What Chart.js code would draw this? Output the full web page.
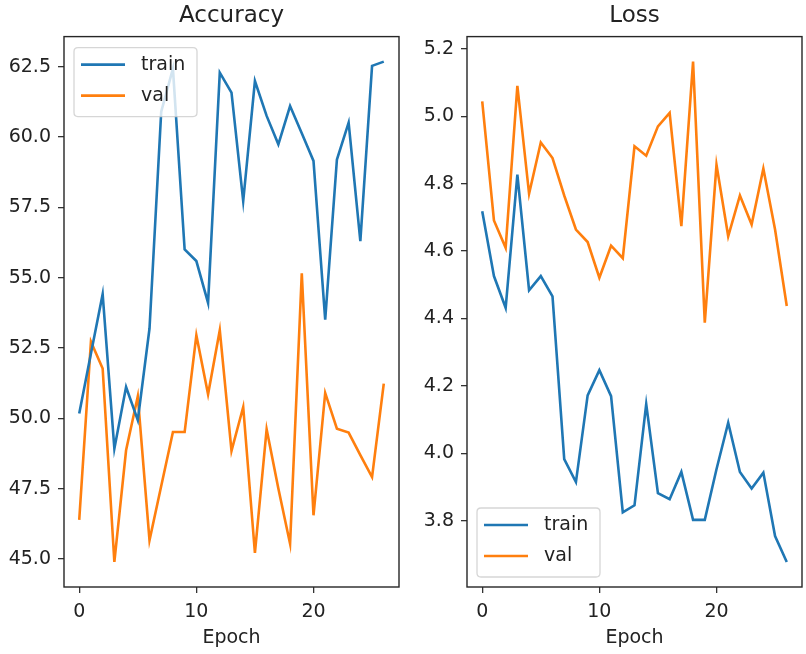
<!DOCTYPE html>
<html>
<head>
<meta charset="utf-8">
<script src="https://cdn.jsdelivr.net/npm/chart.js@4/dist/chart.umd.min.js"></script>
<style>
  html, body { margin: 0; padding: 0; background: #fff; }
  #wrap { position: relative; width: 806px; height: 654px; overflow: hidden; }
  canvas { position: absolute; top: 0; }
</style>
</head>
<body>
<div id="wrap">
  <canvas id="acc" width="403" height="654" style="left:0"></canvas>
  <canvas id="loss" width="403" height="654" style="left:403px"></canvas>
</div>
<script>
// ---- data ----
const epochs = [0,1,2,3,4,5,6,7,8,9,10,11,12,13,14,15,16,17,18,19,20,21,22,23,24,25,26];
const accTrain = [50.17, 52.3, 54.41, 48.92, 51.11, 49.93, 53.19, 60.9, 62.43, 56.0, 55.59, 54.1, 62.29, 61.58, 57.72, 61.99, 60.75, 59.74, 61.1, 60.13, 59.15, 53.51, 59.2, 60.51, 56.3, 62.53, 62.68];
const accVal = [46.39, 52.72, 51.77, 44.89, 48.86, 50.78, 45.66, 47.59, 49.51, 49.51, 52.95, 50.85, 53.13, 48.84, 50.4, 45.21, 49.61, 47.5, 45.54, 55.15, 46.55, 50.9, 49.63, 49.49, 48.69, 47.91, 51.23];
const lossTrain = [4.718, 4.526, 4.432, 4.827, 4.484, 4.526, 4.466, 3.983, 3.915, 4.172, 4.247, 4.17, 3.825, 3.846, 4.146, 3.882, 3.864, 3.945, 3.803, 3.803, 3.953, 4.091, 3.945, 3.896, 3.943, 3.755, 3.678];
const lossVal = [5.044, 4.691, 4.61, 5.09, 4.77, 4.922, 4.876, 4.765, 4.664, 4.627, 4.521, 4.616, 4.579, 4.911, 4.883, 4.97, 5.01, 4.674, 5.162, 4.388, 4.856, 4.644, 4.765, 4.679, 4.845, 4.664, 4.437];
const xTicks = [0, 10, 20];
const accTicks = [45.0, 47.5, 50.0, 52.5, 55.0, 57.5, 60.0, 62.5];
const lossTicks = [3.8, 4.0, 4.2, 4.4, 4.6, 4.8, 5.0, 5.2];
const seriesLabels = ['train', 'val'];
const titles = ['Accuracy', 'Loss'];
const xTitle = 'Epoch';

// ---- styling ----
const C0 = '#1f77b4', C1 = '#ff7f0e';
const FONT = '"DejaVu Sans", sans-serif';
const TXT = '#222';

function margins(arrs) {
  const all = [].concat(...arrs);
  const mn = Math.min(...all), mx = Math.max(...all);
  const m = (mx - mn) * 0.05;
  return [mn - m, mx + m];
}
const xr = margins([epochs]);

const framePlugin = {
  id: 'frame',
  afterDatasetsDraw(chart, args, opts) {
    const {ctx, chartArea: a} = chart;
    ctx.save();
    ctx.strokeStyle = '#262626';
    ctx.lineWidth = 1.4;
    ctx.strokeRect(a.left, a.top, a.right - a.left, a.bottom - a.top);
    // legend
    const w = 123, h = 69;
    const lx = a.left + 10;
    const ly = opts.where === 'top' ? a.top + 11 : a.bottom - 10 - h;
    const r = 4;
    ctx.beginPath();
    ctx.moveTo(lx + r, ly);
    ctx.lineTo(lx + w - r, ly);
    ctx.quadraticCurveTo(lx + w, ly, lx + w, ly + r);
    ctx.lineTo(lx + w, ly + h - r);
    ctx.quadraticCurveTo(lx + w, ly + h, lx + w - r, ly + h);
    ctx.lineTo(lx + r, ly + h);
    ctx.quadraticCurveTo(lx, ly + h, lx, ly + h - r);
    ctx.lineTo(lx, ly + r);
    ctx.quadraticCurveTo(lx, ly, lx + r, ly);
    ctx.closePath();
    ctx.fillStyle = 'rgba(255,255,255,0.8)';
    ctx.fill();
    ctx.strokeStyle = 'rgba(204,204,204,0.8)';
    ctx.lineWidth = 1.3;
    ctx.stroke();
    chart.data.datasets.forEach((ds, i) => {
      const yy = ly + 17 + i * 31;
      ctx.strokeStyle = ds.borderColor;
      ctx.lineWidth = 2.6;
      ctx.beginPath();
      ctx.moveTo(lx + 7, yy);
      ctx.lineTo(lx + 51, yy);
      ctx.stroke();
      ctx.fillStyle = TXT;
      ctx.font = '19px ' + FONT;
      ctx.textBaseline = 'middle';
      ctx.textAlign = 'left';
      ctx.fillText(ds.label, lx + 67, yy);
    });
    ctx.restore();
  }
};

function makeChart(id, title, train, val, yTicks, legendWhere) {
  const yr = margins([train, val]);
  const toPts = arr => arr.map((v, i) => ({x: epochs[i], y: v}));
  return new Chart(document.getElementById(id), {
    type: 'line',
    data: {
      datasets: [
        {label: seriesLabels[0], data: toPts(train), borderColor: C0, backgroundColor: C0, borderWidth: 2.6, pointRadius: 0, tension: 0, fill: false},
        {label: seriesLabels[1], data: toPts(val), borderColor: C1, backgroundColor: C1, borderWidth: 2.6, pointRadius: 0, tension: 0, fill: false}
      ]
    },
    options: {
      responsive: false,
      animation: false,
      devicePixelRatio: 1,
      layout: {padding: {left: 0, right: 4, top: 0, bottom: 0}},
      plugins: {
        legend: {display: false},
        tooltip: {enabled: false},
        title: {
          display: true, text: title, fullSize: false, color: TXT,
          font: {family: FONT, size: 23, weight: 'normal', lineHeight: 1.2},
          padding: {top: 2, bottom: 7}
        },
        frame: {where: legendWhere}
      },
      scales: {
        x: {
          type: 'linear', min: xr[0], max: xr[1],
          afterBuildTicks: s => { s.ticks = xTicks.map(v => ({value: v})); },
          afterFit: s => { s.height = 67; },
          grid: {display: true, drawOnChartArea: false, drawTicks: true, tickLength: 6, color: '#333', lineWidth: 1.3},
          border: {display: false},
          ticks: {color: TXT, padding: 8, font: {family: FONT, size: 19}, maxRotation: 0, callback: v => String(v)},
          title: {display: true, text: xTitle, color: TXT, font: {family: FONT, size: 19}, padding: {top: 5, bottom: 5}}
        },
        y: {
          type: 'linear', min: yr[0], max: yr[1],
          afterBuildTicks: s => { s.ticks = yTicks.map(v => ({value: v})); },
          afterFit: s => { s.width = 64; },
          grid: {display: true, drawOnChartArea: false, drawTicks: true, tickLength: 6, color: '#333', lineWidth: 1.3},
          border: {display: false},
          ticks: {color: TXT, padding: 7, font: {family: FONT, size: 19}, callback: v => Number(v).toFixed(1)}
        }
      }
    },
    plugins: [framePlugin]
  });
}

makeChart('acc', titles[0], accTrain, accVal, accTicks, 'top');
makeChart('loss', titles[1], lossTrain, lossVal, lossTicks, 'bottom');
</script>
</body>
</html>
